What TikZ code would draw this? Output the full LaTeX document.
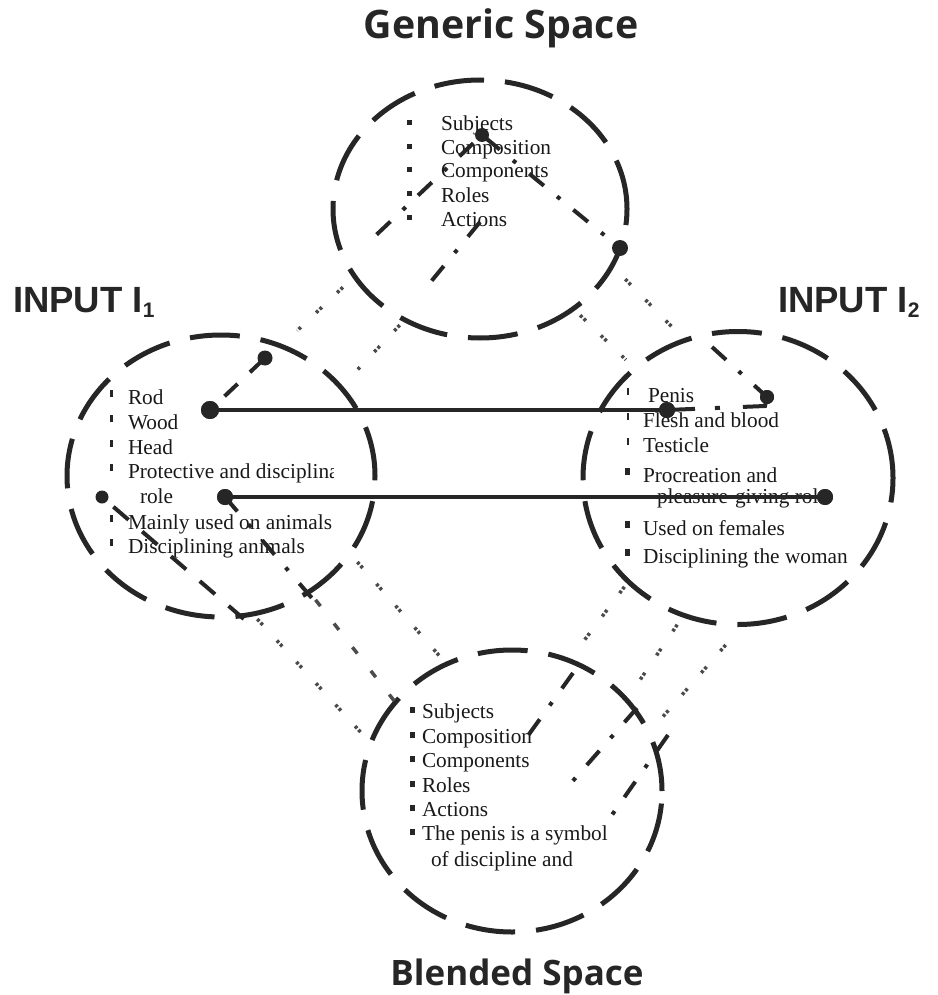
\documentclass[tikz,border=0pt]{standalone}
\usepackage{fontspec}
\setmainfont{Liberation Serif}
\newfontfamily\titlefont{Open Sans}
\newfontfamily\inputfont{Liberation Sans}
\usetikzlibrary{calc,shapes.geometric}
\tikzset{
  space/.style={ellipse, draw=black!85, line width=5pt, dash pattern=on 50pt off 21pt, inner sep=0pt, outer sep=0pt},
  dot/.style={circle, fill=black!85, inner sep=0pt, outer sep=0pt},
  link/.style={draw=black!85, line width=4pt},
  dashlink/.style={draw=black!85, line width=4pt, dash pattern=on 18pt off 17pt},
  dashdotlink/.style={draw=black!85, line width=4pt, dash pattern=on 19pt off 17pt on 4pt off 17pt},
  graylink/.style={draw=black!70, line width=3.5pt, dash pattern=on 3pt off 2pt on 3pt off 21pt, shorten <=-4pt, shorten >=-4pt},
  barlink/.style={draw=black!70, line width=3.5pt, dash pattern=on 8pt off 22pt, shorten <=-4pt, shorten >=-4pt},
  itemtext/.style={anchor=base west, inner sep=0pt, outer sep=0pt, text=black!90, font=\fontsize{21.3}{24}\selectfont},
  titletext/.style={anchor=base, inner sep=0pt, outer sep=0pt, text=black!85},
  inputtext/.style={anchor=base west, inner sep=0pt, outer sep=0pt, text=black!85, font=\inputfont\bfseries\fontsize{36.5}{40}\selectfont},
  bulletfill/.style={fill=black!85},
}
\begin{document}
\begin{tikzpicture}[x=1pt,y=-1pt]
\useasboundingbox (0,0) rectangle (937,995);
\fill[white] (0,0) rectangle (937,995);

% spaces
\node[space, minimum width=294pt, minimum height=258pt] (generic) at (480,209) {};
\node[space, minimum width=308pt, minimum height=282pt] (inputA) at (221,476) {};
\node[space, minimum width=310pt, minimum height=293pt] (inputB) at (738,478) {};
\node[space, minimum width=300pt, minimum height=282pt] (blended) at (512,791) {};

% titles
\node[titletext, font=\titlefont\bfseries\fontsize{39.3}{42}\selectfont] (gtitle) at (501,39) {Generic Space};
\node[titletext, font=\titlefont\bfseries\fontsize{35}{40}\selectfont] (btitle) at (517,985) {Blended Space};
\node[inputtext] (in1) at (13,312) {INPUT I\raisebox{-5pt}{\fontsize{21}{21}\selectfont 1}};
\node[inputtext] (in2) at (778,312) {INPUT I\raisebox{-5pt}{\fontsize{21}{21}\selectfont 2}};

% generic items
\node[itemtext] (g1) at (441,131) {Subjects};
\node[itemtext] (g2) at (441,155) {Composition};
\node[itemtext] (g3) at (441,178) {Components};
\node[itemtext] (g4) at (441,202) {Roles};
\node[itemtext] (g5) at (441,226) {Actions};
\foreach \b in {131,155,178,202,226} {\fill[bulletfill] (407,\b-11) rectangle ++(5,5);}

% input 1 items
\node[itemtext] (a1) at (128,404) {Rod};
\node[itemtext] (a2) at (128,429) {Wood};
\node[itemtext] (a3) at (128,454) {Head};
\begin{scope}
\clip (120,450) rectangle (333,490);
\node[itemtext] (a4) at (128,478) {Protective and disciplina};
\end{scope}
\node[itemtext] (a5) at (140,503) {role};
\node[itemtext] (a6) at (128,529) {Mainly used on animals};
\node[itemtext] (a7) at (128,553) {Disciplining animals};
\foreach \b in {404,429,454,478,529,553} {\fill[bulletfill] (110,\b-14) rectangle ++(2.5,7);}

% input 2 items
\node[itemtext] (b1) at (648,402) {Penis};
\node[itemtext] (b2) at (643,427) {Flesh and blood};
\node[itemtext] (b3) at (643,452) {Testicle};
\node[itemtext] (b4) at (643,482) {Procreation and};
\node[itemtext] (b5) at (657,503) {pleasure-giving role};
\node[itemtext] (b6) at (643,535) {Used on females};
\node[itemtext] (b7) at (643,563) {Disciplining the woman};
\foreach \b in {402,427,452} {\fill[bulletfill] (626.5,\b-14) rectangle ++(2.5,7);}
\foreach \b in {482,535,563} {\fill[bulletfill] (625,\b-14) rectangle ++(5,7);}

% blended items
\node[itemtext] (c1) at (422,718) {Subjects};
\node[itemtext] (c2) at (422,743) {Composition};
\node[itemtext] (c3) at (422,767) {Components};
\node[itemtext] (c4) at (422,792) {Roles};
\node[itemtext] (c5) at (422,816) {Actions};
\node[itemtext] (c6) at (422,840) {The penis is a symbol};
\node[itemtext] (c7) at (431,866) {of discipline and};
\foreach \b in {718,743,767,792,816,840} {\fill[bulletfill] (410,\b-11) rectangle ++(5,6);}

% dots
\node[dot, minimum size=18pt] (dA) at (210,410) {};
\node[dot, minimum size=15pt] (dB) at (265,358) {};
\node[dot, minimum size=16pt] (dC) at (225,497) {};
\node[dot, minimum size=13pt] (dD) at (102,497) {};
\node[dot, minimum size=16pt] (dE) at (667,410) {};
\node[dot, minimum size=14pt] (dF) at (767,397) {};
\node[dot, minimum size=16pt] (dG) at (825,497) {};
\node[dot, minimum size=14pt] (dH) at (482,135) {};
\node[dot, minimum size=16pt] (dI) at (620,248) {};

% free ends
\coordinate (gB) at (373,238);
\coordinate (gC1) at (480,222);
\coordinate (gC2) at (429,284);
\coordinate (iE) at (245,620);
\coordinate (iF) at (317,604);
\coordinate (iH) at (712,347);
\coordinate (hC) at (765,406);
\coordinate (b1s) at (573,673);
\coordinate (b1e) at (527,737);
\coordinate (b2s) at (637,708);
\coordinate (b2e) at (571,783);
\coordinate (b3s) at (668,735);
\coordinate (b3e) at (607,822);

% gray mark ends
\coordinate (g1a) at (340,290); \coordinate (g1b) at (300,328);
\coordinate (g2a) at (397,328); \coordinate (g2b) at (360,367);
\coordinate (r1a) at (628,282); \coordinate (r1b) at (673,328);
\coordinate (r2a) at (583,318); \coordinate (r2b) at (623,357);
\coordinate (l1a) at (260,622); \coordinate (l1b) at (365,737);
\coordinate (l2a) at (318,603); \coordinate (l2b) at (392,698);
\coordinate (l3a) at (360,565); \coordinate (l3b) at (443,660);
\coordinate (q1a) at (622,590); \coordinate (q1b) at (586,638);
\coordinate (q2a) at (675,628); \coordinate (q2b) at (642,677);
\coordinate (q3a) at (723,648); \coordinate (q3b) at (660,720);

% gray dotted connectors
\draw[graylink] (g1a) -- (g1b);
\draw[graylink] (g2a) -- (g2b);
\draw[graylink] (r1a) -- (r1b);
\draw[graylink] (r2a) -- (r2b);
\draw[graylink] (l1a) -- (l1b);
\draw[barlink] (l2a) -- (l2b);
\draw[graylink] (l3a) -- (l3b);
\draw[graylink] (q1a) -- (q1b);
\draw[graylink] (q2a) -- (q2b);
\draw[graylink] (q3a) -- (q3b);

% dash-dot connectors
\draw[dashdotlink, shorten <=4pt] (dH.center) -- (dI.center);
\draw[dashdotlink, shorten <=12pt] (dH.center) -- (gB);
\draw[dashdotlink] (gC1) -- (gC2);
\draw[dashdotlink] (dC.center) -- (iF);
\draw[dashdotlink] (iH) -- (dF.center);
\draw[draw=black!85, line width=4pt, dash pattern=on 28pt off 20pt on 5pt off 23pt on 60pt] (dE.center) -- (hC) -- (dF.center);
\draw[dashdotlink] (b1s) -- (b1e);
\draw[dashdotlink] (b2s) -- (b2e);
\draw[dashdotlink] (b3s) -- (b3e);

% dashed connectors
\draw[dashlink, shorten <=20pt] (dA.center) -- (dB.center);
\draw[draw=black!85, line width=4pt, dash pattern=on 20pt off 18pt, shorten <=15pt] (dD.center) -- (iE);

% solid connectors
\draw[link] (dA.center) -- (dE.center);
\draw[link] (dC.center) -- (dG.center);

% dots drawn again on top of the lines
\fill[black!85] (dA.center) circle [radius=9pt];
\fill[black!85] (dC.center) circle [radius=8pt];
\fill[black!85] (dE.center) circle [radius=8pt];
\fill[black!85] (dG.center) circle [radius=8pt];
\fill[black!85] (dF.center) circle [radius=7pt];
\end{tikzpicture}
\end{document}
